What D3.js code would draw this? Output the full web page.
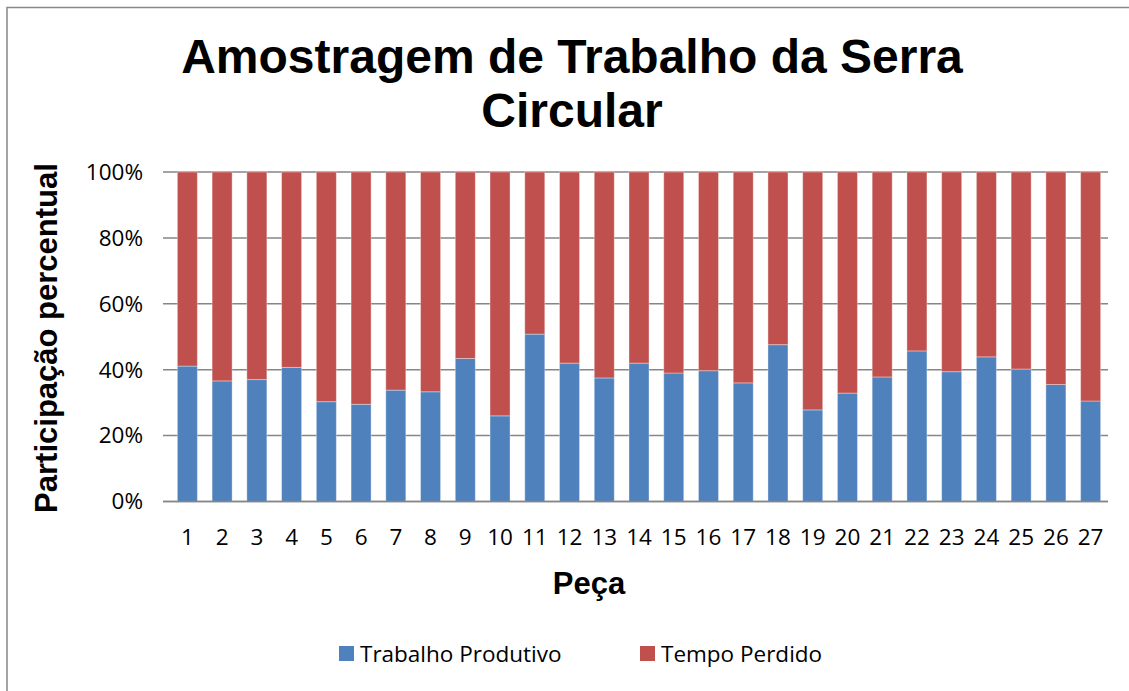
<!DOCTYPE html>
<html><head><meta charset="utf-8">
<script src="https://cdn.jsdelivr.net/npm/d3@7"></script>
<style>body{margin:0;background:#fff}svg{display:block}</style>
</head><body>
<script>
const categories = ["1","2","3","4","5","6","7","8","9","10","11","12","13","14","15","16","17","18","19","20","21","22","23","24","25","26","27"];
const trabalhoProdutivo = [41.1,36.6,37.0,40.7,30.3,29.5,33.8,33.3,43.4,26.0,50.8,42.0,37.5,42.0,39.0,39.7,36.0,47.6,27.8,32.9,37.8,45.7,39.4,43.9,40.2,35.5,30.5];
const tempoPerdido = trabalhoProdutivo.map(v => 100 - v);
const yTicks = [0,20,40,60,80,100];
const seriesNames = ["Trabalho Produtivo","Tempo Perdido"];
const colors = ["#4F81BD","#C0504D"];

const W = 1129, H = 691;
const svg = d3.select("body").append("svg").attr("width", W).attr("height", H);
svg.append("rect").attr("x",7).attr("y",7.5).attr("width",1140).attr("height",700)
  .attr("fill","#fff").attr("stroke","#888").attr("stroke-width",1.5);

const plot = {l:170, r:1108, t:172, b:501.5};
const x = d3.scaleBand().domain(categories).range([plot.l, plot.r]).paddingInner(0.424).paddingOuter(0.212);
const y = d3.scaleLinear().domain([0,100]).range([plot.b, plot.t]);

const rows = categories.map((c,i)=>({cat:c, "Trabalho Produtivo":trabalhoProdutivo[i], "Tempo Perdido":tempoPerdido[i]}));
const stacked = d3.stack().keys(seriesNames)(rows);

svg.append("g").selectAll("line").data(yTicks).join("line")
  .attr("x1", plot.l-7).attr("x2", plot.r).attr("y1", d=>y(d)).attr("y2", d=>y(d))
  .attr("stroke","#868686").attr("stroke-width",1.5);

svg.append("g").selectAll("g").data(stacked).join("g")
  .attr("fill",(d,i)=>colors[i])
  .selectAll("rect").data(d=>d).join("rect")
  .attr("x", d=>x(d.data.cat)).attr("width", x.bandwidth())
  .attr("y", d=>y(d[1])).attr("height", d=>y(d[0])-y(d[1]))
  .attr("stroke","rgba(255,255,255,0.35)").attr("stroke-width",1);

svg.append("line").attr("x1",plot.l-7).attr("x2",plot.r).attr("y1",plot.b).attr("y2",plot.b)
  .attr("stroke","#868686").attr("stroke-width",1.5);

const tickFont = "'Open Sans', sans-serif";
const tickSize = 22.5;
svg.append("g").selectAll("text").data(yTicks).join("text")
  .attr("x",143).attr("y",d=>y(d)).attr("dy","0.35em").attr("text-anchor","end")
  .attr("font-family",tickFont).attr("font-size",tickSize).attr("fill","#000")
  .text(d=>d+"%");

svg.append("g").selectAll("text").data(categories).join("text")
  .attr("x",d=>x(d)+x.bandwidth()/2).attr("y",545).attr("text-anchor","middle")
  .attr("font-family",tickFont).attr("font-size",tickSize).attr("fill","#000")
  .text(d=>d);

const boldFont = "'Liberation Sans', Arial, sans-serif";
svg.append("text").attr("x",572).attr("y",73).attr("text-anchor","middle")
  .attr("font-family",boldFont).attr("font-weight","bold").attr("font-size",48)
  .text("Amostragem de Trabalho da Serra");
svg.append("text").attr("x",572).attr("y",127).attr("text-anchor","middle")
  .attr("font-family",boldFont).attr("font-weight","bold").attr("font-size",48)
  .text("Circular");

svg.append("text").attr("transform","translate(57,338) rotate(-90)").attr("text-anchor","middle")
  .attr("font-family",boldFont).attr("font-weight","bold").attr("font-size",31)
  .text("Participação percentual");

svg.append("text").attr("x",589).attr("y",594).attr("text-anchor","middle")
  .attr("font-family",boldFont).attr("font-weight","bold").attr("font-size",31)
  .text("Peça");

const legendX = [339, 640];
const lg = svg.append("g").selectAll("g").data(seriesNames).join("g")
  .attr("transform",(d,i)=>`translate(${legendX[i]},646)`);
lg.append("rect").attr("width",15).attr("height",15).attr("fill",(d,i)=>colors[i]);
lg.append("text").attr("x",21).attr("y",8).attr("dy","0.35em")
  .attr("font-family",tickFont).attr("font-size",tickSize).attr("fill","#000").text(d=>d);
</script>
</body></html>
